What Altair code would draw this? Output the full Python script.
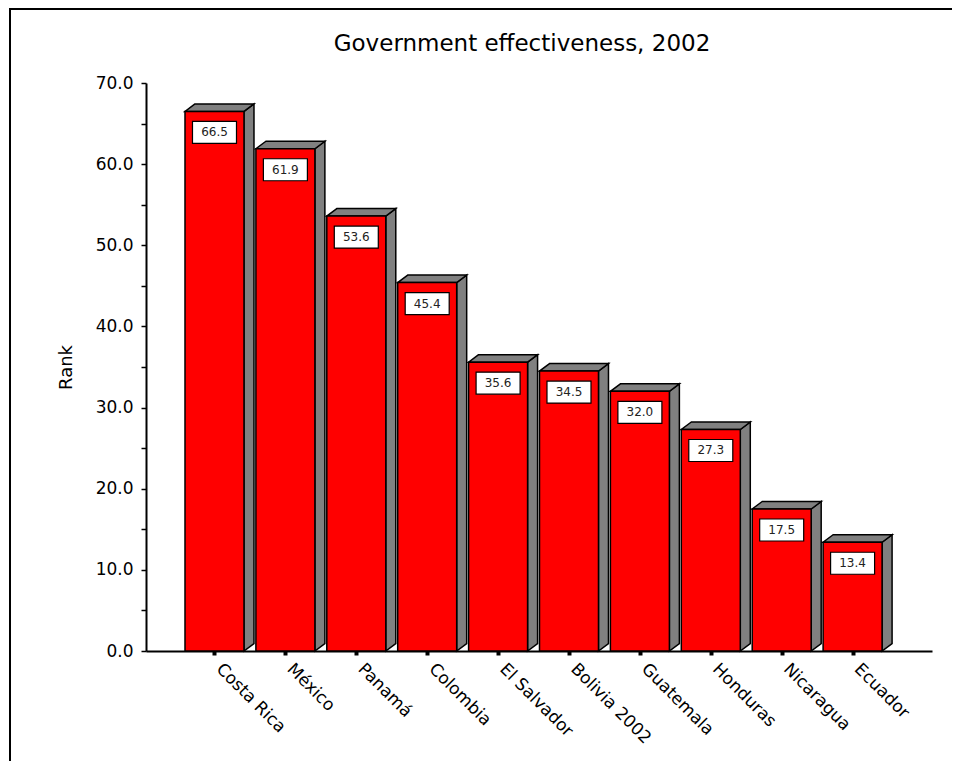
import json
import altair as alt
import pandas as pd

title_text = "Government effectiveness, 2002"
countries = ["Costa Rica", "México", "Panamá", "Colombia", "El Salvador",
             "Bolivia 2002", "Guatemala", "Honduras", "Nicaragua", "Ecuador"]
values = [66.5, 61.9, 53.6, 45.4, 35.6, 34.5, 32.0, 27.3, 17.5, 13.4]
y_ticks = [0, 5, 10, 15, 20, 25, 30, 35, 40, 45, 50, 55, 60, 65, 70]

HALF = 0.416   # half bar width (category units)
DX = 0.141     # 3D depth, x (category units)
DY = 0.924     # 3D depth, y (value units)

bars = pd.DataFrame({"country": countries, "value": values, "idx": list(range(len(countries)))})
bars["x0"] = bars["idx"] - HALF
bars["x1"] = bars["idx"] + HALF
bars["zero"] = 0.0

side_rows, top_rows = [], []
for c, v, i in zip(countries, values, range(len(countries))):
    side_rows.append({"country": c, "xs": i + HALF, "lo": 0.0, "hi": v})
    side_rows.append({"country": c, "xs": i + HALF + DX, "lo": DY, "hi": v + DY})
    top_rows.append({"country": c, "ys": v, "l": i - HALF, "r": i + HALF})
    top_rows.append({"country": c, "ys": v + DY, "l": i - HALF + DX, "r": i + HALF + DX})
side = pd.DataFrame(side_rows)
top = pd.DataFrame(top_rows)

FONT = "DejaVu Sans"
xscale = alt.Scale(domain=[-0.966, 10.12], nice=False, zero=False)
yscale = alt.Scale(domain=[0, 70], nice=False, zero=False)

xaxis = alt.Axis(values=list(range(len(countries))), title=None,
                 labelExpr=json.dumps(countries) + "[datum.value]",
                 labelAngle=45, labelAlign="left", labelBaseline="middle",
                 labelPadding=11, labelOffset=4, labelFontSize=17, labelFont=FONT,
                 labelColor="black",
                 tickSize=4, tickWidth=4, tickColor="black",
                 domainColor="black", domainWidth=2, grid=False, labelOverlap=False)
yaxis = alt.Axis(values=y_ticks, title="Rank",
                 labelExpr="datum.value % 10 == 0 ? format(datum.value, '.1f') : ''",
                 labelFontSize=17, labelFont=FONT, labelColor="black", labelPadding=8,
                 tickSize=5, tickColor="black", tickWidth=1.5,
                 domainColor="black", domainWidth=2, grid=False,
                 titleFontSize=18, titleFont=FONT, titleFontWeight="normal",
                 titleColor="black", titlePadding=20)

single = pd.DataFrame({"t": [title_text]})

border = alt.Chart(single).mark_rect(
    fill=None, stroke="black", strokeWidth=2
).encode(x=alt.value(-136), x2=alt.value(900), y=alt.value(-74), y2=alt.value(700))

title = alt.Chart(single).mark_text(font=FONT, fontSize=23, color="black",
                                    align="center", baseline="alphabetic").encode(
    x=alt.value(376), y=alt.value(-32), text="t:N")

front = alt.Chart(bars).mark_rect(fill="#FF0000", stroke="black", strokeWidth=1.5).encode(
    x=alt.X("x0:Q", scale=xscale, axis=xaxis),
    x2="x1:Q",
    y=alt.Y("value:Q", scale=yscale, axis=yaxis),
    y2="zero:Q",
)

side_face = alt.Chart(side).mark_area(fill="#808080", stroke="black", strokeWidth=1.5,
                                      opacity=1, fillOpacity=1).encode(
    x=alt.X("xs:Q", scale=xscale, axis=xaxis),
    y=alt.Y("hi:Q", scale=yscale, axis=yaxis),
    y2="lo:Q",
    detail="country:N",
)

top_face = alt.Chart(top).mark_area(orient="horizontal", fill="#808080", stroke="black",
                                    strokeWidth=1.5, opacity=1, fillOpacity=1).encode(
    y=alt.Y("ys:Q", scale=yscale, axis=yaxis),
    x=alt.X("l:Q", scale=xscale, axis=xaxis),
    x2="r:Q",
    detail="country:N",
)

box = alt.Chart(bars).mark_rect(fill="white", stroke="black", strokeWidth=1.2,
                                xOffset=-22, x2Offset=22, yOffset=10, y2Offset=32).encode(
    x=alt.X("idx:Q", scale=xscale, axis=xaxis),
    x2="idx:Q",
    y=alt.Y("value:Q", scale=yscale, axis=yaxis),
    y2="value:Q",
)

labels = alt.Chart(bars).mark_text(font=FONT, fontSize=12, color="#222222",
                                   baseline="middle", align="center", dy=21).encode(
    x=alt.X("idx:Q", scale=xscale, axis=xaxis),
    y=alt.Y("value:Q", scale=yscale, axis=yaxis),
    text=alt.Text("value:Q", format=".1f"),
)

chart = alt.layer(border, title, side_face, top_face, front, box, labels).properties(
    width=786, height=568,
    background="white",
    autosize=alt.AutoSizeParams(type="none"),
    padding={"left": 138, "top": 75, "right": 20, "bottom": 110},
).configure_view(stroke=None)

chart.save("out.html", embed_options={"renderer": "svg", "actions": False})
